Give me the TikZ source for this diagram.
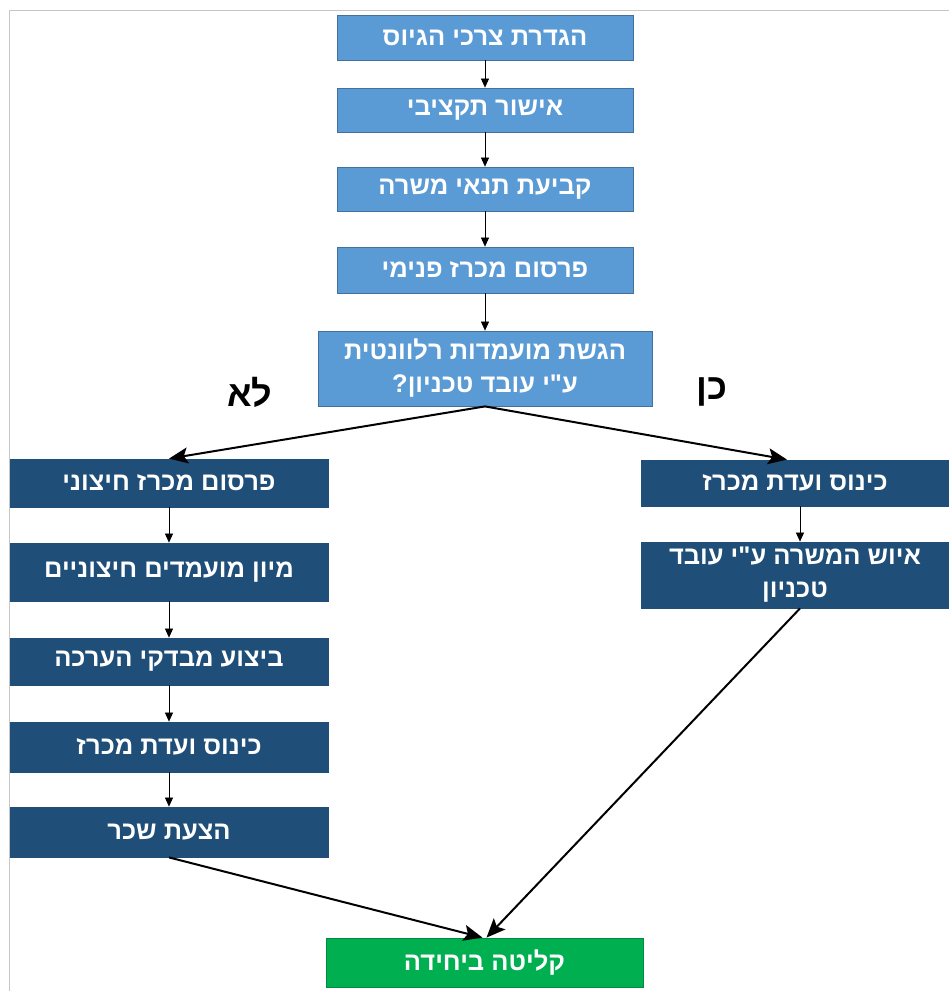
\documentclass[tikz,border=0pt]{standalone}
\usepackage{fontspec}
\setmainfont{Liberation Sans}
\newfontfamily\hebfont[Script=Hebrew]{Liberation Sans}
\TeXXeTstate=1
\usetikzlibrary{arrows.meta}
\definecolor{lightblue}{RGB}{91,155,213}
\definecolor{lightedge}{RGB}{65,113,156}
\definecolor{darkblue}{RGB}{31,78,121}
\definecolor{okgreen}{RGB}{0,176,80}

\begin{document}
\begin{tikzpicture}[x=1pt,y=-1pt,
        box/.style={draw=lightedge,line width=0.8pt,text=white,inner sep=2pt,
            font=\hebfont\bfseries\fontsize{25.5}{33}\selectfont,align=center},
        topbox/.style={box,fill=lightblue,minimum width=296pt},
        sidebox/.style={box,fill=darkblue,draw=darkblue},
        thin/.style={-{Triangle[width=8pt,length=9pt]},line width=0.6pt},
        thick/.style={-{Stealth[width=16pt,length=19pt,inset=4pt]},line width=2pt},
        answer/.style={font=\hebfont\bfseries\fontsize{36}{40}\selectfont}]
        \useasboundingbox (0,0) rectangle (949,991);
        \draw[gray!45,line width=1pt] (9,991) -- (9,10) -- (949,10);
        % main column
        \node[topbox,minimum height=45pt] (need) at (485,37.5) {\beginR הגדרת צרכי הגיוס\endR};
        \node[topbox,minimum height=44pt] (budget) at (485,110) {\beginR אישור תקציבי\endR};
        \node[topbox,minimum height=44pt] (terms) at (485,189) {\beginR קביעת תנאי משרה\endR};
        \node[topbox,minimum height=46pt] (inner) at (485,270) {\beginR פרסום מכרז פנימי\endR};
        \node[topbox,minimum width=334pt,minimum height=75pt] (apply) at (485,368.5)
            {\beginR הגשת מועמדות רלוונטית\endR\\\beginR ע"י עובד טכניון?\endR};
        \node[answer] (no) at (250,392) {\beginR לא\endR};
        \node[answer] (yes) at (712,392) {\beginR כן\endR};
        % external candidates
        \node[sidebox,minimum width=318pt,minimum height=48pt] (outer) at (169,483) {\beginR פרסום מכרז חיצוני\endR};
        \node[sidebox,minimum width=318pt,minimum height=58pt] (sort) at (169,572) {\beginR מיון מועמדים חיצוניים\endR};
        \node[sidebox,minimum width=318pt,minimum height=47pt] (tests) at (169,661.5) {\beginR ביצוע מבדקי הערכה\endR};
        \node[sidebox,minimum width=318pt,minimum height=50pt] (commL) at (169,747) {\beginR כינוס ועדת מכרז\endR};
        \node[sidebox,minimum width=318pt,minimum height=50pt] (salary) at (169,832) {\beginR הצעת שכר\endR};
        % technion employee
        \node[sidebox,minimum width=308pt,minimum height=46pt] (commR) at (795,483) {\beginR כינוס ועדת מכרז\endR};
        \node[sidebox,minimum width=308pt,minimum height=66pt] (staff) at (795,575)
            {\beginR איוש המשרה ע"י עובד\endR\\\beginR טכניון\endR};
        \node[box,fill=okgreen,draw=okgreen!80!black,minimum width=317pt,minimum height=49pt] (absorb) at (484.5,962.5)
            {\beginR קליטה ביחידה\endR};
        % connectors
        \draw[thin] (need) -- (budget);
        \draw[thin] (budget) -- (terms);
        \draw[thin] (terms) -- (inner);
        \draw[thin] (inner) -- (apply);
        \draw[thick] (apply.south) -- (outer.north);
        \draw[thick] (apply.south) -- ([xshift=-8pt]commR.north);
        \draw[thin] (outer) -- (sort);
        \draw[thin] (sort) -- (tests);
        \draw[thin] (tests) -- (commL);
        \draw[thin] (commL) -- (salary);
        \draw[thin] ([xshift=5pt]commR.south) -- ([xshift=5pt]staff.north);
        \draw[thick] (salary.south) -- ([xshift=-2pt]absorb.north);
        \draw[thick] ([xshift=5pt]staff.south) -- ([xshift=2pt]absorb.north);
\end{tikzpicture}
\end{document}
